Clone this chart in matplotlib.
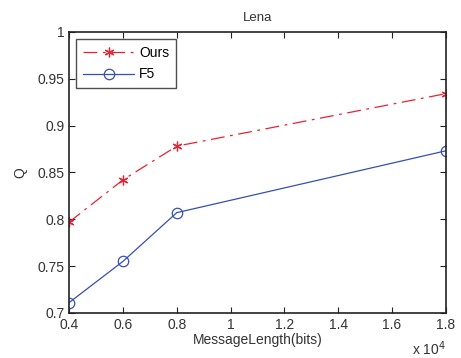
import matplotlib
matplotlib.use("Agg")
import matplotlib.pyplot as plt

plt.rcParams['font.family'] = ['Liberation Sans', 'DejaVu Sans']
plt.rcParams['lines.scale_dashes'] = False

x = [0.4, 0.6, 0.8, 1.8]
ours = [0.797, 0.842, 0.878, 0.934]
f5 = [0.711, 0.755, 0.807, 0.873]
xticks = [0.4, 0.6, 0.8, 1.0, 1.2, 1.4, 1.6, 1.8]
xticklabels = ['0.4', '0.6', '0.8', '1', '1.2', '1.4', '1.6', '1.8']
yticks = [0.7, 0.75, 0.8, 0.85, 0.9, 0.95, 1.0]
yticklabels = ['0.7', '0.75', '0.8', '0.85', '0.9', '0.95', '1']

fig = plt.figure(figsize=(4.61, 3.58), dpi=100)
ax = fig.add_axes([0.150, 0.126, 0.817, 0.785])

red = '#ee2030'
blue = '#3550b0'
ax.plot(x, ours, color=red, lw=0.9, dashes=(10, 4, 2, 4), marker=(6, 2, 0),
        markersize=7, markeredgewidth=0.9, label='Ours')
ax.plot(x, f5, color=blue, lw=0.9, marker='o', markersize=7.5,
        markerfacecolor='none', markeredgewidth=0.9, label='F5')

ax.set_xlim(0.4, 1.8)
ax.set_ylim(0.7, 1.0)
ax.set_xticks(xticks)
ax.set_xticklabels(xticklabels)
ax.set_yticks(yticks)
ax.set_yticklabels(yticklabels)
ax.tick_params(direction='in', length=4, width=0.8, labelsize=10,
               top=True, right=True, colors='#222222', labelcolor='#333333')
for s in ax.spines.values():
    s.set_linewidth(1.2)
    s.set_color('#222222')

ax.set_title('Lena', fontsize=9.5, color='#333333', pad=8)
ax.set_xlabel('MessageLength(bits)', fontsize=10, color='#333333', labelpad=1)
ax.set_ylabel('Q', fontsize=10, color='#333333', labelpad=7)
ax.text(1.0, -0.095, r'x 10$^{4}$', transform=ax.transAxes, ha='right',
        va='top', fontsize=10, color='#333333')

leg = ax.legend(loc='upper left', bbox_to_anchor=(0.018, 0.975), fontsize=10,
                handlelength=3.7, frameon=True, fancybox=False,
                borderpad=0.5, labelspacing=0.55, handletextpad=0.35,
                borderaxespad=0)
leg.get_frame().set_edgecolor('#222222')
leg.get_frame().set_linewidth(1.0)

fig.savefig('out.png', dpi=100)
